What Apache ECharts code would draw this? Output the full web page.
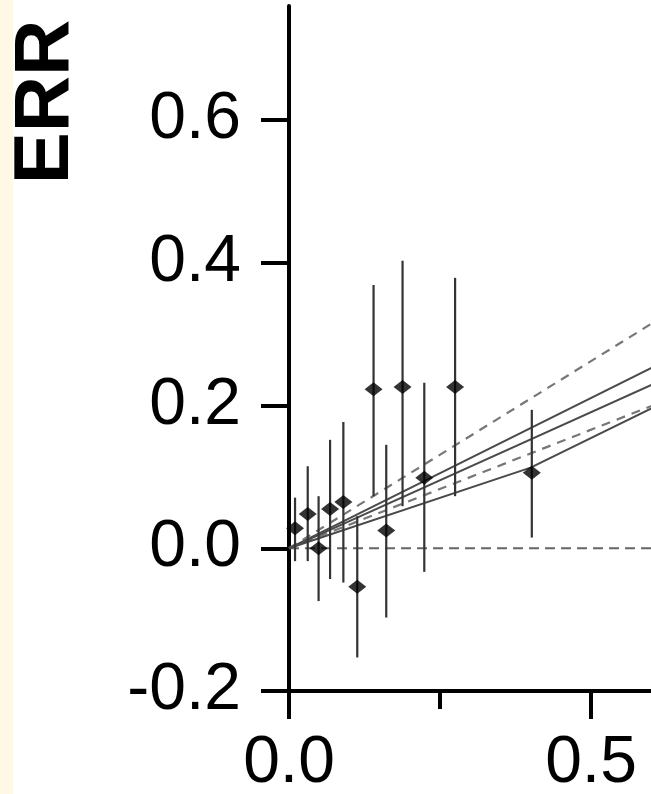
<!DOCTYPE html>
<html>
<head>
<meta charset="utf-8">
<script src="https://cdn.jsdelivr.net/npm/echarts@6/dist/echarts.min.js"></script>
<style>
html,body{margin:0;padding:0;background:#fff;}
#chart{width:651px;height:794px;}
</style>
</head>
<body>
<div id="chart"></div>
<script>
// Data points (dose, ERR) with 95% CI bounds
var doseX   = [0.010, 0.031, 0.049, 0.068, 0.090, 0.113, 0.140, 0.161, 0.188, 0.224, 0.275, 0.402];
var errMean = [0.028, 0.048, 0.000, 0.055, 0.065, -0.054, 0.223, 0.025, 0.226, 0.099, 0.226, 0.106];
var errLow  = [-0.018, -0.018, -0.074, -0.043, -0.048, -0.153, 0.073, -0.097, 0.059, -0.033, 0.073, 0.015];
var errHigh = [0.071, 0.115, 0.073, 0.152, 0.177, 0.045, 0.369, 0.145, 0.403, 0.232, 0.379, 0.194];

// Fitted lines
var fitX      = [0, 0.65];
var linearFit = [0, 0.274];
var ciUpper   = [0, 0.341];
var ciLower   = [0, 0.216];
var model2Fit = [0, 0.248];
var curveX    = [0, 0.4, 0.6, 0.65];
var curveY    = [0, 0.113, 0.196, 0.217];
var zeroX     = [0, 1.0];
var zeroY     = [0, 0];

// Axis ticks
var yTicks = [-0.2, 0, 0.2, 0.4, 0.6];
var xTicks = [0, 0.5];

function pairs(xs, ys){ return xs.map(function(x,i){ return [x, ys[i]]; }); }

var chart = echarts.init(document.getElementById('chart'), null, {renderer:'canvas'});
var axisFont = 'Liberation Sans';

var option = {
  backgroundColor: '#ffffff',
  animation: false,
  graphic: [
    {type:'rect', left:0, top:0, shape:{x:0,y:0,width:13,height:794}, style:{fill:'#fff8e6'}, z:-10},
    {type:'text', x:46, y:102, rotation:Math.PI/2,
     style:{text:'ERR', fontSize:78, fontWeight:'bold', fontFamily:axisFont, fill:'#000', align:'center', verticalAlign:'middle'}}
  ],
  grid: {left:289, top:6, width:604, height:685, containLabel:false, outerBoundsMode:'none'},
  xAxis: {
    type:'value', min:0, max:1.0, interval:0.5,
    axisLine:{show:true, onZero:false, lineStyle:{color:'#000', width:4}},
    axisTick:{show:true, length:28, lineStyle:{color:'#000', width:4}},
    minorTick:{show:true, splitNumber:2, length:18, lineStyle:{color:'#000', width:4}},
    axisLabel:{customValues:xTicks, margin:40, fontSize:66, fontFamily:axisFont, color:'#000',
      formatter:function(v){ return v.toFixed(1); }},
    splitLine:{show:false}
  },
  yAxis: {
    type:'value', min:-0.2, max:0.76,
    axisLine:{show:true, onZero:false, lineStyle:{color:'#000', width:4}},
    axisTick:{show:true, customValues:yTicks, length:28, lineStyle:{color:'#000', width:4}},
    axisLabel:{customValues:yTicks, margin:48, fontSize:66, fontFamily:axisFont, color:'#000',
      formatter:function(v){ return v.toFixed(1); }},
    splitLine:{show:false}
  },
  series: [
    {type:'line', data:pairs(zeroX, zeroY), showSymbol:false, z:1,
     lineStyle:{color:'#666', width:2, type:[10,6]}},
    {type:'line', data:pairs(fitX, ciUpper), showSymbol:false, z:2,
     lineStyle:{color:'#777', width:2.2, type:[9,7]}},
    {type:'line', data:pairs(fitX, ciLower), showSymbol:false, z:2,
     lineStyle:{color:'#777', width:2.2, type:[9,7]}},
    {type:'line', data:pairs(fitX, linearFit), showSymbol:false, z:2,
     lineStyle:{color:'#4a4a4a', width:2}},
    {type:'line', data:pairs(fitX, model2Fit), showSymbol:false, z:2,
     lineStyle:{color:'#4a4a4a', width:2}},
    {type:'line', data:pairs(curveX, curveY), showSymbol:false, z:2,
     lineStyle:{color:'#4a4a4a', width:2}},
    {type:'custom', z:3,
     data: doseX.map(function(x,i){ return [x, errLow[i], errHigh[i]]; }),
     renderItem:function(params, api){
       var p1 = api.coord([api.value(0), api.value(1)]);
       var p2 = api.coord([api.value(0), api.value(2)]);
       return {type:'line', shape:{x1:p1[0], y1:p1[1], x2:p2[0], y2:p2[1]},
               style:{stroke:'#333', lineWidth:2.2}};
     }},
    {type:'scatter', z:4, data:pairs(doseX, errMean), symbol:'diamond', symbolSize:[18,14],
     itemStyle:{color:'#000'}}
  ]
};
chart.setOption(option);
</script>
</body>
</html>
